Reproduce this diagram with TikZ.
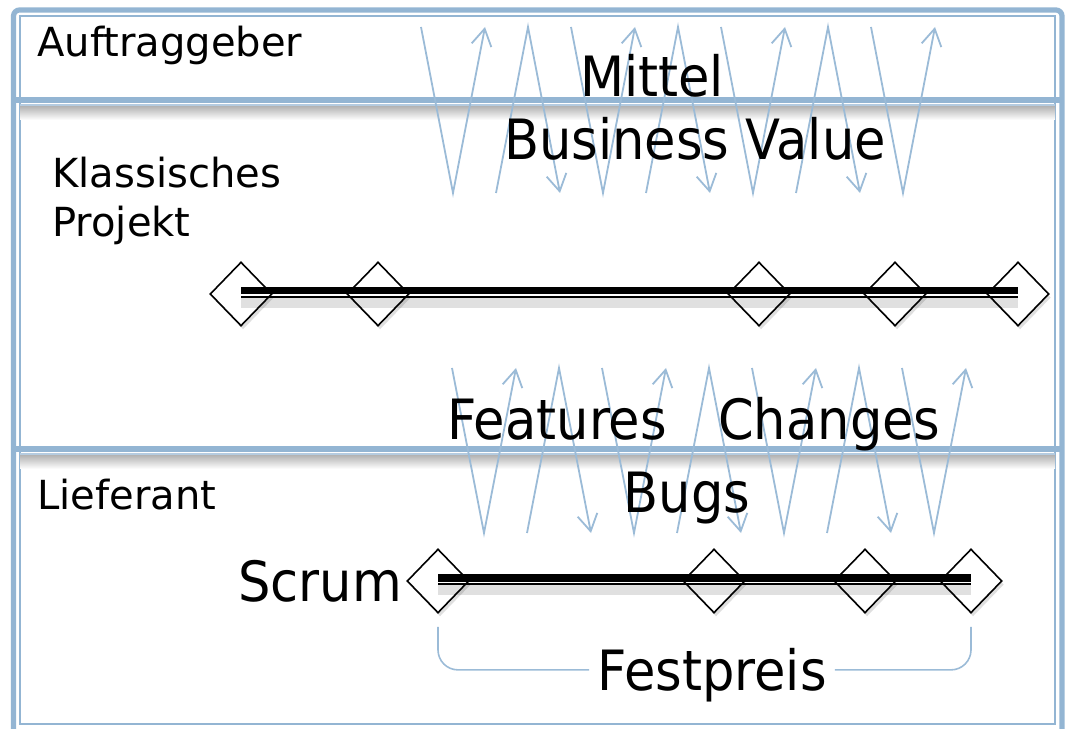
\documentclass[tikz,border=0pt]{standalone}
\usepackage{fontspec}
\setmainfont{DejaVu Sans}
\newfontfamily\slidefont{DejaVu Sans}[FakeStretch=0.92]
\usepackage{xcolor}
\usetikzlibrary{shapes.geometric, arrows.meta, shadows, positioning}

\definecolor{frameblue}{RGB}{147,181,211}
\definecolor{flowblue}{RGB}{155,187,215}

\tikzset{
  lane/.style={font=\fontsize{28.5}{34}\selectfont, anchor=base west, inner sep=0pt},
  big/.style={font=\slidefont\fontsize{39.5}{46}\selectfont, inner sep=0pt},
  flow/.style={flowblue, line width=0.45mm, line join=miter,
    -{Straight Barb[length=4.2mm, width=5mm]}},
  milestone/.style={diamond, draw, line width=0.4mm, fill=white, inner sep=0pt,
    minimum width=15.5mm, minimum height=16mm,
    drop shadow={shadow xshift=0.5mm, shadow yshift=-0.9mm, opacity=0.25}},
  bar/.style={line width=1.8mm},
  rail/.style={line width=0.55mm},
  barshadow/.style={black, opacity=0.12, line width=2.5mm},
  bracket/.style={flowblue, line width=0.4mm, rounded corners=5mm}
}

\begin{document}
\begin{tikzpicture}[x=0.25mm, y=-0.25mm]
\useasboundingbox (0,0) rectangle (1066,729);
\clip (0,0) rectangle (1066,729);

% Rahmen
\draw[frameblue, line width=1.3mm, rounded corners=1.5mm] (13.5,10) rectangle (1062,760);
\draw[frameblue, line width=0.5mm] (20,16) rectangle (1055,724);

% Trennlinien
\foreach \y in {100,449} {
  \shade[top color=black!30, bottom color=white] (20,\y+6) rectangle (1055,\y+20);
  \draw[frameblue, line width=1.5mm] (14,\y) -- (1062,\y);
  \draw[frameblue!70, line width=0.5mm] (20,\y+5.5) -- (1055,\y+5.5);
}

% Zickzack oben und unten
\foreach \x/\ya/\yb in {421/27/193, 452/368/533} {
  \foreach \i in {0,...,3}
    \draw[flow] (\x+150*\i,\ya) -- (\x+150*\i+32,\yb) -- (\x+150*\i+64,\ya);
  \foreach \i in {0,...,2}
    \draw[flow] (\x+150*\i+75,\yb) -- (\x+150*\i+107,\ya) -- (\x+150*\i+139,\yb);
}

% Bahnen
\node[lane] (auftrag) at (37,57) {Auftraggeber};
\node[lane] (klassisch) at (52,188) {Klassisches};
\node[lane] (projekt) at (52,237) {Projekt};
\node[lane] (liefer) at (37,509) {Lieferant};

\node[big, anchor=base] (mittel) at (652,97) {Mittel};
\node[big, anchor=base] (value) at (695,160) {Business Value};
\node[big, anchor=base west] (features) at (447,440) {Features};
\node[big, anchor=base west] (changes) at (718,440) {Changes};
\node[big, anchor=base] (bugs) at (687,513) {Bugs};

% Klassisches Projekt
\foreach \n/\x in {1/241, 2/378, 3/759, 4/895, 5/1018}
  \node[milestone] (k\n) at (\x,294) {};
\draw[barshadow] ([yshift=-2.2mm]k1.center) -- ([yshift=-2.2mm]k5.center);
\draw[bar] ([yshift=0.9mm]k1.center) -- ([yshift=0.9mm]k5.center);
\draw[rail] ([yshift=-0.75mm]k1.center) -- ([yshift=-0.75mm]k5.center);

% Scrum
\foreach \n/\x in {1/438, 2/714, 3/865, 4/971}
  \node[milestone] (s\n) at (\x,581) {};
\draw[barshadow] ([yshift=-2.2mm]s1.center) -- ([yshift=-2.2mm]s4.center);
\draw[bar] ([yshift=0.75mm]s1.center) -- ([yshift=0.75mm]s4.center);
\draw[rail] ([yshift=-0.8mm]s1.center) -- ([yshift=-0.8mm]s4.center);
\node[big, left=1mm of s1] (scrum) {Scrum};

% Festpreis
\node[big, anchor=base, inner xsep=2mm] (fest) at (712,690) {Festpreis};
\draw[bracket] ([yshift=-3.25mm]s1.south) |- ([yshift=1.2mm]fest.west);
\draw[bracket] ([yshift=-3.25mm]s4.south) |- ([yshift=1.2mm]fest.east);

\end{tikzpicture}
\end{document}
